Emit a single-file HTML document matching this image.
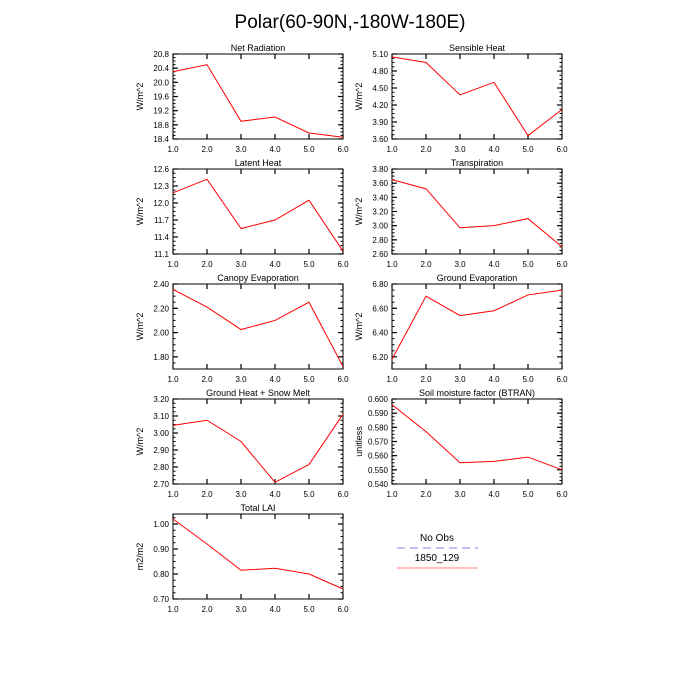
<!DOCTYPE html>
<html><head><meta charset="utf-8"><style>
body{margin:0;background:#fff;}
svg{display:block;font-family:"Liberation Sans",Helvetica,sans-serif;}
</style></head><body>
<svg id="chart" width="700" height="700" viewBox="0 0 700 700">
<text x="350" y="28" text-anchor="middle" font-size="19">Polar(60-90N,-180W-180E)</text>
<g>
<text x="437" y="541" text-anchor="middle" font-size="10">No Obs</text>
<line x1="397" y1="548" x2="478" y2="548" stroke="#aaaaee" stroke-width="1.6" stroke-dasharray="8,5"/>
<text x="437" y="561" text-anchor="middle" font-size="10">1850_129</text>
<line x1="397" y1="568" x2="478" y2="568" stroke="#ff9999" stroke-width="1.2"/>
</g>
</svg>
<script>
const xCats=[1,2,3,4,5,6];
const titles=["Net Radiation","Sensible Heat","Latent Heat","Transpiration","Canopy Evaporation","Ground Evaporation","Ground Heat + Snow Melt","Soil moisture factor (BTRAN)","Total LAI"];
const units=["W/m^2","W/m^2","W/m^2","W/m^2","W/m^2","W/m^2","W/m^2","unitless","m2/m2"];
const netRad=[20.3,20.5,18.9,19.02,18.57,18.45];
const sensible=[5.05,4.95,4.38,4.6,3.66,4.12];
const latent=[12.18,12.42,11.55,11.7,12.05,11.15];
const transp=[3.65,3.52,2.97,3.0,3.1,2.7];
const canopy=[2.355,2.21,2.025,2.1,2.25,1.72];
const groundEvap=[6.18,6.70,6.54,6.58,6.71,6.75];
const groundHeat=[3.045,3.075,2.95,2.71,2.815,3.11];
const btran=[0.596,0.577,0.555,0.556,0.559,0.550];
const lai=[1.02,0.92,0.815,0.823,0.80,0.74];
const series=[netRad,sensible,latent,transp,canopy,groundEvap,groundHeat,btran,lai];
const yMins=[18.4,3.6,11.1,2.6,1.7,6.1,2.7,0.54,0.7];
const yMaxs=[20.8,5.1,12.6,3.8,2.4,6.8,3.2,0.6,1.04];
const yTickStart=[18.4,3.6,11.1,2.6,1.8,6.2,2.7,0.54,0.7];
const yTickStep=[0.4,0.3,0.3,0.2,0.2,0.2,0.1,0.01,0.1];
const yTickDec=[1,2,1,2,2,2,2,3,2];
const xTickLabels=["1.0","2.0","3.0","4.0","5.0","6.0"];
const NS="http://www.w3.org/2000/svg";
const svg=document.getElementById('chart');
function mk(t,a,p){const e=document.createElementNS(NS,t);for(const k in a)e.setAttribute(k,a[k]);p.appendChild(e);return e;}
const W=170,H=85;
for(let i=0;i<9;i++){
  const col=i%2,row=Math.floor(i/2);
  const x0=col?392:173,y0=54+row*115;
  const g=mk('g',{},svg);
  
  
  const xs=v=>x0+(v-1)/5*W;
  const ys=v=>y0+H-(v-yMins[i])/(yMaxs[i]-yMins[i])*H;
  const r=mk('rect',{x:x0,y:y0,width:W,height:H,fill:'none',stroke:'#000','stroke-width':1},g);
  
  
  const t=mk('text',{x:x0+W/2,y:y0-3,'text-anchor':'middle','font-size':9},g);t.textContent=titles[i];
  
  
  const u=mk('text',{x:0,y:0,'text-anchor':'middle','font-size':9,transform:`translate(${x0-30},${y0+H/2}) rotate(-90)`},g);u.textContent=units[i];
  
  
  xCats.forEach((c,k)=>{
    const X=xs(c);
    mk('line',{x1:X,y1:y0+H,x2:X,y2:y0+H-5,stroke:'#000','stroke-width':1.2},g);
    mk('line',{x1:X,y1:y0,x2:X,y2:y0+5,stroke:'#000','stroke-width':1.2},g);
    const tl=mk('text',{x:X,y:y0+H+13,'text-anchor':'middle','font-size':8},g);tl.textContent=xTickLabels[k];
    
    
  });
  const st=yTickStep[i];
  for(let v=yTickStart[i];v<=yMaxs[i]+1e-9;v+=st){
    const Y=ys(v);
    mk('line',{x1:x0,y1:Y,x2:x0+5,y2:Y,stroke:'#000','stroke-width':1.2},g);
    mk('line',{x1:x0+W,y1:Y,x2:x0+W-5,y2:Y,stroke:'#000','stroke-width':1.2},g);
    const tl=mk('text',{x:x0-4,y:Y+3,'text-anchor':'end','font-size':8},g);tl.textContent=v.toFixed(yTickDec[i]);
    
    
  }
  for(let v=yMins[i];v<=yMaxs[i]+1e-9;v+=st/4){
    const Y=ys(v);
    mk('line',{x1:x0,y1:Y,x2:x0+2.5,y2:Y,stroke:'#000'},g);
    mk('line',{x1:x0+W,y1:Y,x2:x0+W-2.5,y2:Y,stroke:'#000'},g);
  }
  const pts=series[i].map((v,k)=>xs(xCats[k])+','+ys(v)).join(' ');
  const pl=mk('polyline',{points:pts,fill:'none',stroke:'#ff0000','stroke-width':1},g);
  
  
}
</script>
</body></html>
